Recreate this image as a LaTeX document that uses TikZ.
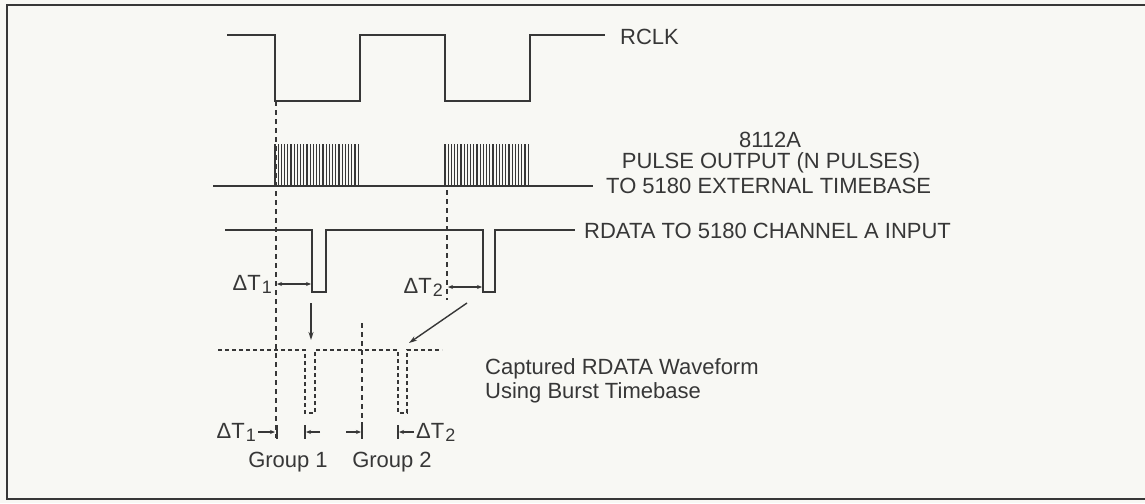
\documentclass[tikz,border=0pt]{standalone}
\usepackage{fontspec}
\setmainfont{Liberation Sans}
\usetikzlibrary{arrows.meta}
\definecolor{ink}{RGB}{55,55,55}
\definecolor{paper}{RGB}{248,248,244}
\newcommand{\dT}[1]{ΔT\kern1pt\raisebox{-3pt}{\fontsize{18}{18}\selectfont #1}}
\begin{document}
\begin{tikzpicture}[x=1pt,y=-1pt,
  wave/.style={draw=ink, line width=1.9pt, line join=miter},
  dsh/.style={draw=ink, line width=1.2pt, dash pattern=on 5pt off 4pt},
  lbl/.style={font=\fontsize{22}{25}\selectfont, inner sep=0pt, text=ink},
  dimarr/.style={draw=ink, line width=1.2pt, {Stealth[length=5pt,width=4pt]}-{Stealth[length=5pt,width=4pt]}},
  onearr/.style={draw=ink, line width=1.2pt, -{Stealth[length=5pt,width=4pt]}},
  bigarr/.style={draw=ink, line width=1.4pt, -{Stealth[length=8pt,width=5pt]}},
  tick/.style={draw=ink, line width=1.2pt}]
\useasboundingbox (0,0) rectangle (1145,503);
\fill[paper] (0,0) rectangle (1145,503);
% frame
\draw[ink, line width=2pt] (1150,5) -- (7,5) -- (7,499) -- (1150,499);

% RCLK
\draw[wave] (227,35) -| (275,101) -| (360,35) -| (445,101) -| (530,35) -- (605,35);
\node[lbl, anchor=west] (rclk) at (620,37) {RCLK};

% pulse output
\draw[wave] (213,186) -- (593,186);
\foreach \i in {0,...,26} {
  \draw[ink, line width=1.1pt] (275+\i*3.2,186) -- (275+\i*3.2,144);
  \draw[ink, line width=1.1pt] (445+\i*3.2,186) -- (445+\i*3.2,144);
}
\node[lbl] (l8112) at (770,140) {8112A};
\node[lbl] (lpulse) at (771,163) {PULSE OUTPUT (N PULSES)};
\node[lbl, anchor=west] (lto) at (606,186) {TO 5180 EXTERNAL TIMEBASE};

% RDATA
\draw[wave] (225,230) -| (312,292) -| (326,230) -| (483,292) -| (495,230) -- (575,230);
\node[lbl, anchor=west] (lrdata) at (584,231) {RDATA TO 5180 CHANNEL A INPUT};

% dashed guide lines
\coordinate (g1t) at (276,101); \coordinate (g1b) at (276,438);
\coordinate (g2t) at (447,190); \coordinate (g2b) at (447,300);
\coordinate (g3t) at (362,323); \coordinate (g3b) at (362,438);
\draw[dsh] (g1t) -- (g1b);
\draw[dsh] (g2t) -- (g2b);
\draw[dsh] (g3t) -- (g3b);

% top delta T
\coordinate (d1a) at (277,284); \coordinate (d1b) at (311,284);
\draw[dimarr] (d1a) -- (d1b);
\node[lbl, anchor=east] (dt1) at (272,284) {\dT{1}};
\coordinate (d2a) at (448,287); \coordinate (d2b) at (482,287);
\draw[dimarr] (d2a) -- (d2b);
\node[lbl, anchor=east] (dt2) at (443,287) {\dT{2}};

% mapping arrows
\coordinate (a1s) at (311,303); \coordinate (a1e) at (311,340);
\draw[bigarr] (a1s) -- (a1e);
\coordinate (a2s) at (467,303); \coordinate (a2e) at (409,343);
\draw[bigarr] (a2s) -- (a2e);

% captured waveform
\draw[draw=ink, line width=1.2pt, dash pattern=on 4pt off 3pt]
  (218,350) -- (305,350) -- (305,413) -- (315,413) -- (315,350)
  -- (398,350) -- (398,413) -- (407,413) -- (407,350) -- (442,350);
\node[lbl, anchor=west] (cap1) at (485,369) {Captured RDATA Waveform};
\node[lbl, anchor=west] (cap2) at (485,393) {Using Burst Timebase};

% bottom delta T markers
\node[lbl, anchor=east] (bdt1) at (256,432) {\dT{1}};
\coordinate (b1s) at (258,432); \coordinate (b1e) at (275,432);
\draw[onearr] (b1s) -- (b1e);
\draw[tick] (277,425) -- (277,439);
\draw[tick] (305,425) -- (305,439);
\coordinate (b2s) at (320,432); \coordinate (b2e) at (306,432);
\draw[onearr] (b2s) -- (b2e);
\coordinate (b3s) at (346,432); \coordinate (b3e) at (361,432);
\draw[onearr] (b3s) -- (b3e);
\draw[tick] (362,425) -- (362,439);
\draw[tick] (398,425) -- (398,439);
\coordinate (b4s) at (414,432); \coordinate (b4e) at (399,432);
\draw[onearr] (b4s) -- (b4e);
\node[lbl, anchor=west] (bdt2) at (416,432) {\dT{2}};

\node[lbl] (grp1) at (288,462) {Group 1};
\node[lbl] (grp2) at (392,462) {Group 2};
\end{tikzpicture}
\end{document}
